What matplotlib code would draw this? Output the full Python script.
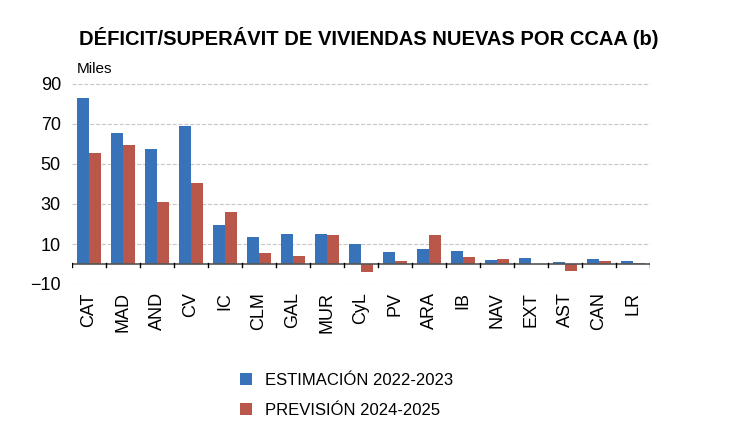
import numpy as np
import matplotlib.pyplot as plt

regiones = ['CAT', 'MAD', 'AND', 'CV', 'IC', 'CLM', 'GAL', 'MUR', 'CyL', 'PV',
            'ARA', 'IB', 'NAV', 'EXT', 'AST', 'CAN', 'LR']
estimacion = [83.2, 65.5, 57.3, 69.0, 19.3, 13.5, 14.8, 15.0, 10.0, 6.0,
              7.7, 6.5, 2.0, 3.0, 0.8, 2.5, 1.5]
prevision = [55.3, 59.3, 31.2, 40.7, 26.2, 5.3, 4.0, 14.5, -4.0, 1.5,
             14.5, 3.3, 2.3, 0.0, -3.3, 1.3, 0.3]

plt.rcParams['font.family'] = ['Liberation Sans', 'DejaVu Sans']
fig = plt.figure(figsize=(7.37, 4.36), dpi=100)
ax = fig.add_axes([72/737, 1-284/436, 578/737, 204/436])

x = np.arange(len(regiones))
w = 0.36
ax.bar(x - w/2, estimacion, w, color='#3873b9', label='ESTIMACIÓN 2022-2023')
ax.bar(x + w/2, prevision, w, color='#b9574a', label='PREVISIÓN 2024-2025')

ax.set_xlim(-0.5, len(regiones) - 0.5)
ax.set_ylim(-10, 92)
ax.set_yticks([-10, 10, 30, 50, 70, 90])
ax.yaxis.grid(True, linestyle='--', color='#c8c8c8', linewidth=0.8)
ax.set_axisbelow(True)
ax.axhline(0, color='#555555', linewidth=1.2)
for s in ax.spines.values():
    s.set_visible(False)
ax.tick_params(axis='y', length=0, labelsize=13, pad=8)
ax.set_xticks(x)
ax.set_xticklabels(regiones, rotation=90, fontsize=13)
ax.tick_params(axis='x', length=0, pad=6)
for xi in np.arange(len(regiones) + 1) - 0.5:
    ax.plot([xi, xi], [-1.5, 0.5], color='black', linewidth=1)
ax.text(0.008, 1.02, 'Miles', transform=ax.transAxes, fontsize=11, va='bottom')

fig.text(0.5, 1-38/436, 'DÉFICIT/SUPERÁVIT DE VIVIENDAS NUEVAS POR CCAA (b)',
         ha='center', va='center', fontsize=14.5, fontweight='bold')
fig.legend(loc='upper left', bbox_to_anchor=(225/737, 1-358/436), frameon=False,
           fontsize=12, handlelength=0.7, handleheight=0.7, labelspacing=0.9)
fig.savefig('out.png', dpi=100)
